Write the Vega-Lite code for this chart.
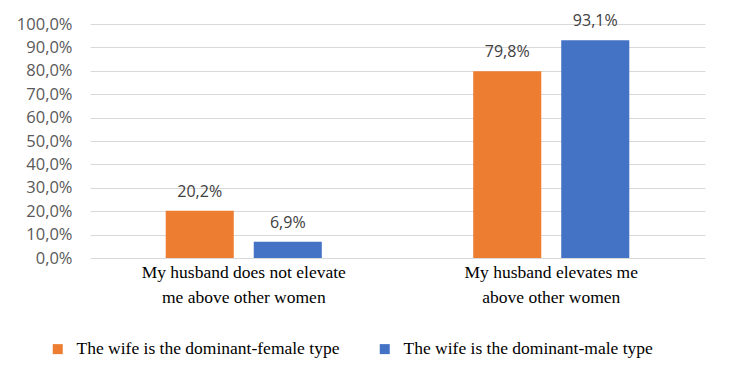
{
  "$schema": "https://vega.github.io/schema/vega-lite/v6.json",
  "autosize": {"type": "none"},
  "width": 615,
  "height": 234,
  "padding": {"left": 90, "top": 24, "right": 25, "bottom": 123},
  "background": "white",
  "config": {
    "locale": {"number": {"decimal": ",", "thousands": ".", "grouping": [3], "currency": ["", " €"]}},
    "view": {"stroke": null}
  },
  "data": {
    "values": [
      {"category": "My husband does not elevate me above other women", "type": "The wife is the dominant-female type", "value": 0.202},
      {"category": "My husband does not elevate me above other women", "type": "The wife is the dominant-male type", "value": 0.069},
      {"category": "My husband elevates me above other women", "type": "The wife is the dominant-female type", "value": 0.798},
      {"category": "My husband elevates me above other women", "type": "The wife is the dominant-male type", "value": 0.931}
    ]
  },
  "encoding": {
    "x": {
      "field": "category", "type": "nominal", "sort": null,
      "scale": {"paddingInner": 0, "paddingOuter": 0},
      "axis": {
        "title": null, "domain": false, "ticks": false, "labelAngle": 0,
        "labelFont": "Liberation Serif", "labelFontSize": 17.5, "labelColor": "#000000",
        "labelLineHeight": 25, "labelPadding": 5, "labelLimit": 400,
        "labelExpr": "datum.value == 'My husband elevates me above other women' ? ['My husband elevates me', 'above other women'] : ['My husband does not elevate', 'me above other women']"
      }
    },
    "xOffset": {"field": "type", "type": "nominal", "sort": null, "scale": {"paddingInner": 0.227, "paddingOuter": 0.86}},
    "y": {
      "field": "value", "type": "quantitative",
      "scale": {"domain": [0, 1]},
      "axis": {
        "title": null, "domain": false, "ticks": false, "format": ".1%",
        "values": [0, 0.1, 0.2, 0.3, 0.4, 0.5, 0.6, 0.7, 0.8, 0.9, 1],
        "gridColor": "#D9D9D9", "gridWidth": 1,
        "labelFont": "Open Sans", "labelFontSize": 16.5, "labelColor": "#595959", "labelPadding": 18
      }
    }
  },
  "layer": [
    {
      "mark": {"type": "bar"},
      "encoding": {
        "color": {
          "field": "type", "type": "nominal", "sort": null,
          "scale": {"range": ["#ED7D31", "#4472C4"]},
          "legend": {
            "title": null, "orient": "none", "direction": "horizontal",
            "legendX": -41, "legendY": 316,
            "symbolType": "square", "symbolSize": 100, "symbolStrokeWidth": 0,
            "labelFont": "Liberation Serif", "labelFontSize": 17.5, "labelColor": "#000000",
            "labelOffset": 10, "columnPadding": 36, "labelLimit": 400
          }
        }
      }
    },
    {
      "mark": {"type": "text", "baseline": "alphabetic", "dy": -14, "font": "Open Sans", "fontSize": 16, "color": "#404040"},
      "encoding": {
        "text": {"field": "value", "type": "quantitative", "format": ".1%"}
      }
    }
  ]
}
